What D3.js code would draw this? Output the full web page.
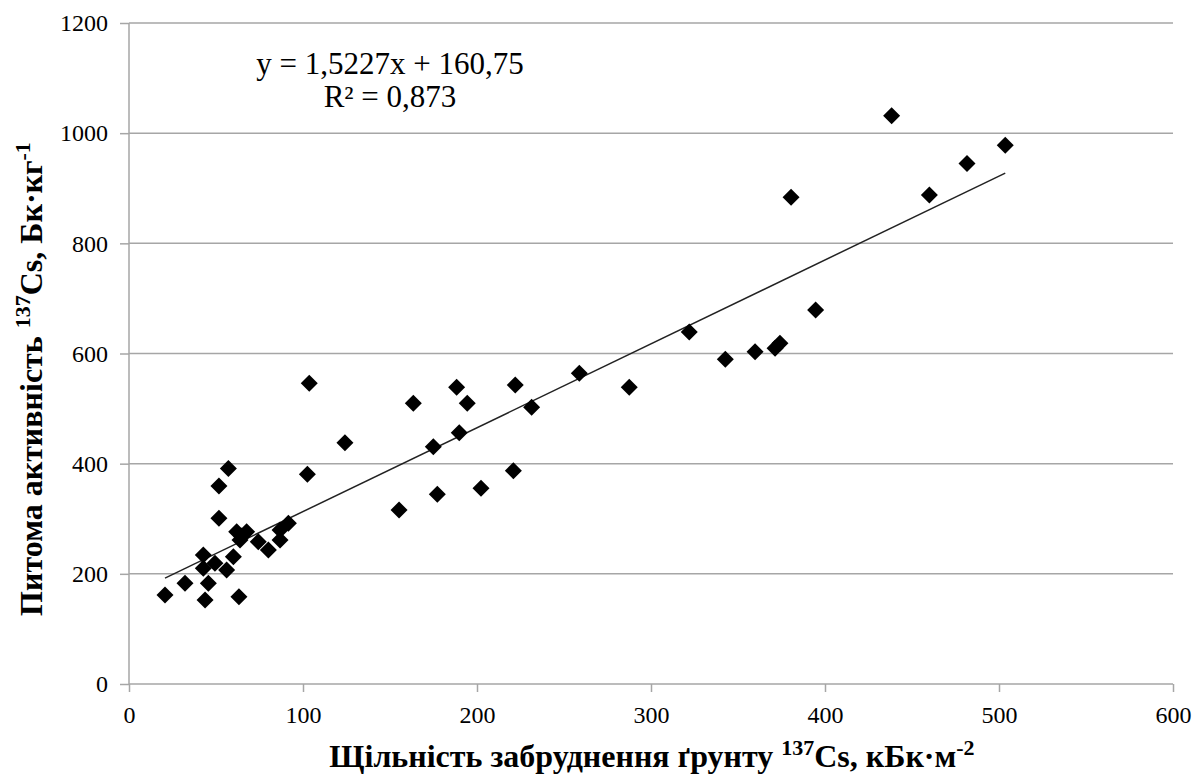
<!DOCTYPE html>
<html><head><meta charset="utf-8">
<script src="https://cdn.jsdelivr.net/npm/d3@7/dist/d3.min.js"></script>
<style>body{margin:0;background:#fff}svg{display:block}text{font-family:"Liberation Serif","Times New Roman",serif}</style>
</head><body><svg id="c" width="1201" height="776"></svg>
<script>
const xValues = [20.7,32.2,43.7,45.6,42.7,42.7,49.4,56.1,60,51.7,51.7,57.1,61.9,67.6,63.8,64.8,63.2,74.3,80.1,86.8,86.8,91.6,102.5,103.6,124.1,155.2,163.4,174.9,177.2,188.3,189.8,194.4,202.3,220.9,222,231.4,258.8,287.5,322,342.7,359.8,371.3,374.1,380.5,394.6,438.3,460,481.6,503.6];
const yValues = [161.6,182.8,152.5,182.8,234.2,210,219.1,207,231,300.8,359.5,391,276.5,276.5,261.4,268.7,158.5,258.4,243.3,261.4,279.6,291.7,380.7,546,438,315.9,509.6,430.8,344.4,538.7,456.3,509.6,355.3,387.3,542.8,502.3,564,538.7,639,589.5,603.3,609.5,618.5,883.6,679,1031.8,887.8,945,978];
const xTicks = [0,100,200,300,400,500,600];
const yTicks = [0,200,400,600,800,1000,1200];
const slope = 1.5227, intercept = 160.75;
const eqLines = ["y = 1,5227x + 160,75", "R² = 0,873"];

const svg = d3.select("#c");
const x = d3.scaleLinear().domain([0,600]).range([129,1173]);
const y = d3.scaleLinear().domain([0,1200]).range([684,23]);
const grid = "#a6a6a6";
const serif = "Liberation Serif";

// gridlines
svg.append("g").selectAll("line").data(yTicks.filter(d=>d>0)).join("line")
  .attr("x1",x(0)).attr("x2",x(600)).attr("y1",d=>y(d)).attr("y2",d=>y(d))
  .attr("stroke",grid).attr("stroke-width",1.5);

// y axis
const ya = svg.append("g").attr("transform",`translate(${x(0)},0)`)
  .call(d3.axisLeft(y).tickValues(yTicks).tickSize(9).tickPadding(12).tickFormat(d3.format("d")))
  .attr("font-family",serif);
ya.select(".domain").attr("stroke",grid).attr("stroke-width",1.5).attr("d",`M0,${y(0)}V${y(1200)}`);
ya.selectAll(".tick line").attr("stroke",grid).attr("stroke-width",1.5);
ya.selectAll(".tick text").attr("font-size",24).attr("fill","#000");

// x axis
const xa = svg.append("g").attr("transform",`translate(0,${y(0)})`)
  .call(d3.axisBottom(x).tickValues(xTicks).tickSize(8).tickPadding(14).tickFormat(d3.format("d")))
  .attr("font-family",serif);
xa.select(".domain").attr("stroke",grid).attr("stroke-width",1.5).attr("d",`M${x(0)},0H${x(600)}`);
xa.selectAll(".tick line").attr("stroke",grid).attr("stroke-width",1.5);
xa.selectAll(".tick text").attr("font-size",24).attr("fill","#000");

// trend line
const xmin = d3.min(xValues), xmax = d3.max(xValues);
svg.append("line")
  .attr("x1",x(xmin)).attr("y1",y(slope*xmin+intercept))
  .attr("x2",x(xmax)).attr("y2",y(slope*xmax+intercept))
  .attr("stroke","#222").attr("stroke-width",1.5);

// points
const r = 8.5;
svg.append("g").selectAll("path").data(xValues.map((v,i)=>[v,yValues[i]])).join("path")
  .attr("transform",d=>`translate(${x(d[0])},${y(d[1])})`)
  .attr("d",`M0,${-r}L${r},0L0,${r}L${-r},0Z`).attr("fill","#000");

// equation
svg.append("text").attr("x",390).attr("y",74).attr("text-anchor","middle").attr("font-size",31).text(eqLines[0]);
svg.append("text").attr("x",390).attr("y",107).attr("text-anchor","middle").attr("font-size",31).text(eqLines[1]);

// x title
const xt = svg.append("text").attr("x",652).attr("y",767).attr("text-anchor","middle")
  .attr("font-size",32).attr("font-weight","bold");
xt.append("tspan").text("Щільність  забруднення ґрунту ");
xt.append("tspan").attr("dy",-12).attr("font-size",22).text("137");
xt.append("tspan").attr("dy",12).text("Cs, кБк·м");
xt.append("tspan").attr("dy",-12).attr("font-size",22).text("-2");

// y title
const yt = svg.append("text").attr("transform","translate(42,379) rotate(-90)").attr("text-anchor","middle")
  .attr("font-size",32).attr("font-weight","bold");
yt.append("tspan").text("Питома активність ");
yt.append("tspan").attr("dy",-12).attr("font-size",22).text("137");
yt.append("tspan").attr("dy",12).text("Cs, Бк·кг");
yt.append("tspan").attr("dy",-12).attr("font-size",22).text("-1");
</script></body></html>
